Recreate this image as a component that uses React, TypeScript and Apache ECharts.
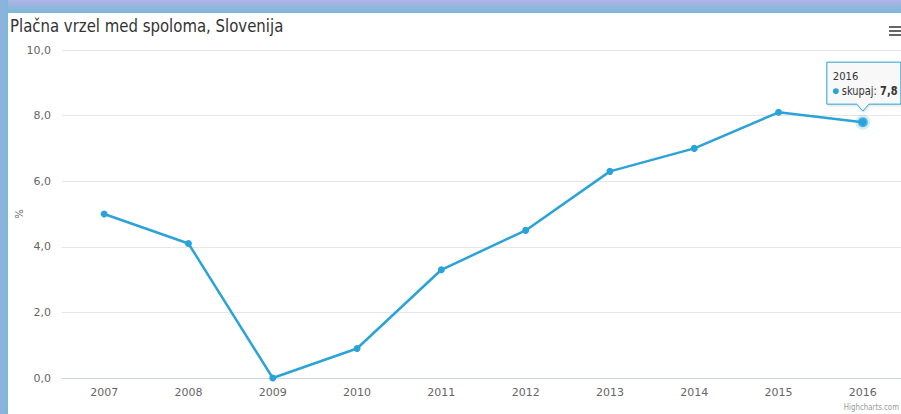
import React, { useEffect, useRef } from "react";
import * as echarts from "echarts";

const years = ["2007", "2008", "2009", "2010", "2011", "2012", "2013", "2014", "2015", "2016"];
const skupaj = [5.0, 4.1, 0.0, 0.9, 3.3, 4.5, 6.3, 7.0, 8.1, 7.8];
const hoverIndex = 9;
const titleText = "Plačna vrzel med spoloma, Slovenija";
const seriesName = "skupaj";
const yAxisTitle = "%";
const creditText = "Highcharts.com";

const LINE = "#2ba3d8";
const FONT = "'DejaVu Sans', sans-serif";

const fmt = (v: number) => v.toFixed(1).replace(".", ",");

export default function App() {
  const ref = useRef<HTMLDivElement>(null);
  useEffect(() => {
    if (!ref.current) return;
    const chart = echarts.init(ref.current, undefined, { renderer: "svg" });
    const hoverData = skupaj.map((v, i) => (i === hoverIndex ? v : null));
    chart.setOption({
      animation: false,
      backgroundColor: "#ffffff",
      textStyle: { fontFamily: FONT },
      grid: { left: 62, width: 843, top: 50, bottom: 36, outerBoundsMode: "none", containLabel: false },
      xAxis: {
        type: "category",
        data: years,
        boundaryGap: true,
        axisLine: { show: true, lineStyle: { color: "#ccd6eb", width: 1 } },
        axisTick: { show: false },
        axisLabel: { color: "#666666", fontSize: 11, fontFamily: FONT, margin: 9 },
        splitLine: { show: false },
      },
      yAxis: {
        type: "value",
        min: 0,
        max: 10,
        interval: 2,
        axisLine: { show: false },
        axisTick: { show: false },
        axisLabel: { color: "#666666", fontSize: 11, fontFamily: FONT, margin: 11, formatter: (v: number) => fmt(v) },
        splitLine: { lineStyle: { color: "#e6e6e6", width: 1 } },
      },
      series: [
        {
          name: seriesName,
          type: "line",
          data: skupaj,
          symbol: "circle",
          symbolSize: 7,
          showSymbol: true,
          lineStyle: { color: LINE, width: 2.5 },
          itemStyle: { color: LINE },
          z: 2,
        },
        {
          name: seriesName + "-hover",
          type: "scatter",
          data: hoverData,
          symbol: "circle",
          symbolSize: 10,
          itemStyle: { color: LINE, borderColor: "rgba(43,163,216,0.25)", borderWidth: 5 },
          z: 3,
        },
      ],
    });

    const [px, py] = chart.convertToPixel({ seriesIndex: 0 }, [hoverIndex, skupaj[hoverIndex]]) as number[];
    const [, yMid] = chart.convertToPixel({ seriesIndex: 0 }, [0, 5]) as number[];
    const bx = px - 36;
    const by = py - 60;
    const bw = 74;
    const bh = 42;

    chart.setOption({
      graphic: [
        {
          type: "rect",
          shape: { x: 0, y: 0, width: 901, height: 13 },
          style: {
            fill: new echarts.graphic.LinearGradient(0, 0, 0, 1, [
              { offset: 0, color: "#b0b4e6" },
              { offset: 1, color: "#7ab8d5" },
            ]),
          },
          z: 100,
        },
        {
          type: "rect",
          shape: { x: 0, y: 0, width: 8, height: 414 },
          style: {
            fill: new echarts.graphic.LinearGradient(0, 0, 1, 0, [
              { offset: 0, color: "#92b0dc" },
              { offset: 1, color: "#7cb8d8" },
            ]),
          },
          z: 100,
        },
        // title (condensed look)
        {
          type: "text",
          x: 10,
          y: 26,
          scaleX: 0.83,
          originX: 0,
          style: { text: titleText, fontSize: 18, fill: "#333333", fontFamily: FONT, textVerticalAlign: "middle" },
          z: 50,
        },
        // y-axis title
        {
          type: "text",
          x: 19,
          y: yMid,
          rotation: Math.PI / 2,
          style: { text: yAxisTitle, fontSize: 10, fill: "#666666", fontFamily: FONT, textAlign: "center", textVerticalAlign: "middle" },
          z: 50,
        },
        // hamburger
        { type: "rect", shape: { x: 889, y: 26, width: 14, height: 2 }, style: { fill: "#666666" }, z: 50 },
        { type: "rect", shape: { x: 889, y: 30, width: 14, height: 2 }, style: { fill: "#666666" }, z: 50 },
        { type: "rect", shape: { x: 889, y: 34, width: 14, height: 2 }, style: { fill: "#666666" }, z: 50 },
        // tooltip
        {
          type: "polygon",
          shape: {
            points: [
              [bx, by],
              [bx + bw, by],
              [bx + bw, by + bh],
              [px + 6, by + bh],
              [px, by + bh + 7],
              [px - 6, by + bh],
              [bx, by + bh],
            ],
          },
          style: { fill: "rgba(249,249,249,0.92)", stroke: LINE, lineWidth: 1, shadowBlur: 3, shadowColor: "rgba(0,0,0,0.15)", shadowOffsetX: 1, shadowOffsetY: 1 },
          z: 60,
        },
        {
          type: "text",
          x: bx + 6,
          y: by + 14,
          style: { text: years[hoverIndex], fontSize: 10, fill: "#333333", fontFamily: FONT, textVerticalAlign: "middle" },
          z: 61,
        },
        {
          type: "circle",
          shape: { cx: bx + 9, cy: by + 29, r: 3 },
          style: { fill: LINE },
          z: 61,
        },
        {
          type: "text",
          x: bx + 15,
          y: by + 29,
          scaleX: 0.82,
          originX: 0,
          style: {
            text: "{n|" + seriesName + ": }{b|" + fmt(skupaj[hoverIndex]) + "}",
            fontFamily: FONT,
            textVerticalAlign: "middle",
            rich: {
              n: { fontSize: 12, fill: "#333333", fontFamily: FONT },
              b: { fontSize: 12, fill: "#333333", fontWeight: "bold", fontFamily: FONT },
            },
          },
          z: 61,
        },
        {
          type: "text",
          x: 899,
          y: 407,
          scaleX: 0.78,
          originX: 0,
          style: { text: creditText, fontSize: 9, fill: "#999999", fontFamily: FONT, textAlign: "right", textVerticalAlign: "middle" },
          z: 50,
        },
      ],
    });

    return () => chart.dispose();
  }, []);

  return (
    <div
      ref={ref}
      style={{ position: "absolute", left: 0, top: 0, width: 901, height: 414, background: "#ffffff" }}
    />
  );
}
